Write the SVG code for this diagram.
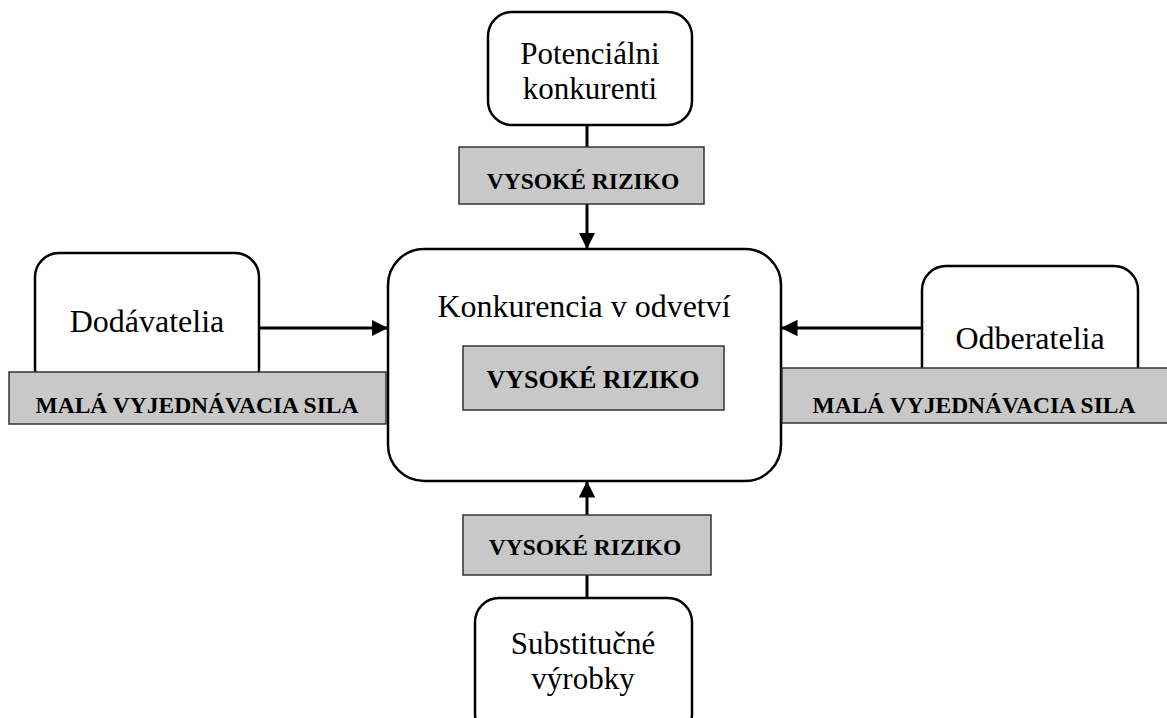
<svg xmlns="http://www.w3.org/2000/svg" width="1167" height="718" viewBox="0 0 1167 718">
<defs>
<style>
.node{fill:#fff;stroke:#000;stroke-width:2.5}
.tag{fill:#c8c8c8;stroke:#333;stroke-width:1.5}
.lbl{font-family:"Liberation Serif",serif;font-size:32px;fill:#000;text-anchor:middle}
.lbl2{font-family:"Liberation Serif",serif;font-size:31px;fill:#000;text-anchor:middle}
.bold{font-family:"Liberation Serif",serif;font-weight:bold;font-size:23.5px;fill:#000;text-anchor:middle}
.conn{stroke:#000;stroke-width:3;fill:none}
</style>
<marker id="arr" viewBox="0 0 10 10" refX="10" refY="5" markerWidth="5.5" markerHeight="5.5" markerUnits="strokeWidth" orient="auto">
<path d="M0,0 L10,5 L0,10 z" fill="#000"/>
</marker>
</defs>
<rect width="1167" height="718" fill="#fff"/>
<g id="connectors">
<line class="conn" x1="587" y1="125" x2="587" y2="147"/>
<line class="conn" x1="587" y1="204" x2="587" y2="249" marker-end="url(#arr)"/>
<line class="conn" x1="587" y1="598" x2="587" y2="575"/>
<line class="conn" x1="587" y1="515" x2="587" y2="481" marker-end="url(#arr)"/>
<line class="conn" x1="259" y1="328" x2="388" y2="328" marker-end="url(#arr)"/>
<line class="conn" x1="922" y1="328" x2="781" y2="328" marker-end="url(#arr)"/>
</g>
<g id="central">
<rect class="node" x="388" y="249" width="393" height="232" rx="36"/>
<text class="lbl" x="584" y="317">Konkurencia v odvetví</text>
<rect class="tag" x="463" y="346" width="261" height="64"/>
<text class="bold" x="593" y="388" style="font-size:26px">VYSOKÉ RIZIKO</text>
</g>
<g id="potencialni">
<rect class="node" x="488" y="12" width="204" height="113" rx="24"/>
<text class="lbl2" x="590" y="64">Potenciálni</text>
<text class="lbl2" x="590" y="99">konkurenti</text>
</g>
<g id="tag-top">
<rect class="tag" x="459" y="147" width="245" height="57"/>
<text class="bold" x="583" y="189">VYSOKÉ RIZIKO</text>
</g>
<g id="dodavatelia">
<rect class="node" x="35" y="253" width="224" height="140" rx="24"/>
<text class="lbl" x="147" y="332">Dodávatelia</text>
</g>
<g id="tag-left">
<rect class="tag" x="9" y="372" width="377" height="52"/>
<text class="bold" x="197" y="413">MALÁ VYJEDNÁVACIA SILA</text>
</g>
<g id="odberatelia">
<rect class="node" x="922" y="266" width="216" height="125" rx="24"/>
<text class="lbl" x="1030" y="349">Odberatelia</text>
</g>
<g id="tag-right">
<rect class="tag" x="782" y="368" width="386" height="55"/>
<text class="bold" x="974" y="413">MALÁ VYJEDNÁVACIA SILA</text>
</g>
<g id="substitucne">
<rect class="node" x="475" y="598" width="217" height="140" rx="24"/>
<text class="lbl2" x="583" y="654">Substitučné</text>
<text class="lbl2" x="583" y="689">výrobky</text>
</g>
<g id="tag-bottom">
<rect class="tag" x="463" y="515" width="248" height="60"/>
<text class="bold" x="585" y="555">VYSOKÉ RIZIKO</text>
</g>
</svg>
